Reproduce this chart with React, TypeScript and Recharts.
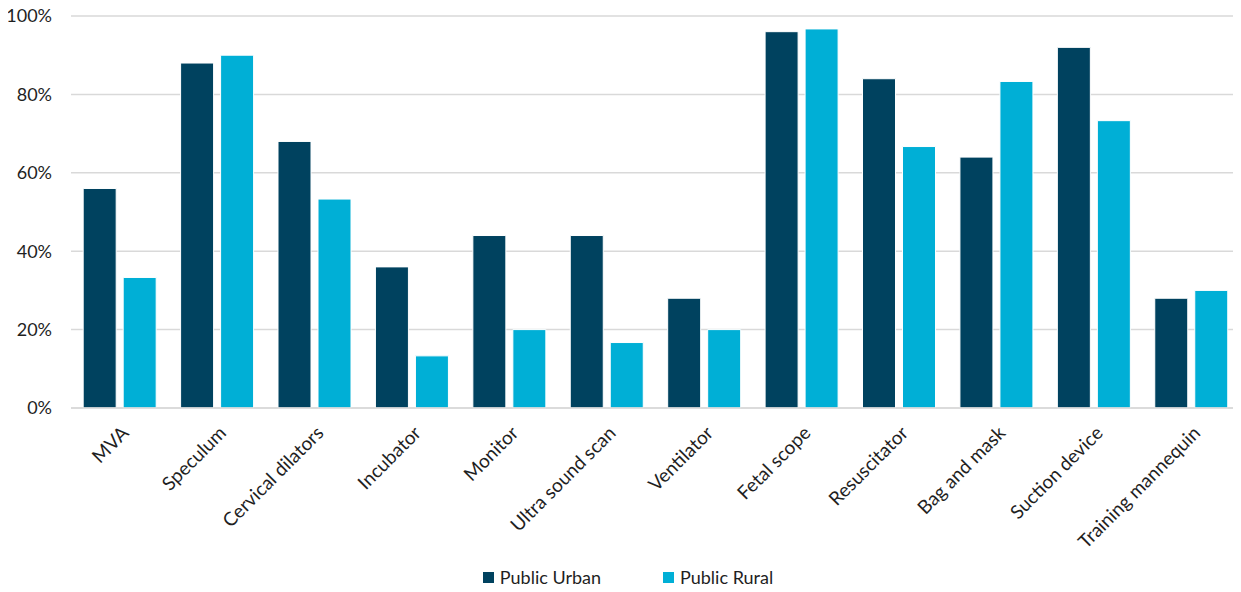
import { BarChart, Bar, XAxis, YAxis, CartesianGrid, Legend } from 'recharts'

const categories = [
  'MVA',
  'Speculum',
  'Cervical dilators',
  'Incubator',
  'Monitor',
  'Ultra sound scan',
  'Ventilator',
  'Fetal scope',
  'Resuscitator',
  'Bag and mask',
  'Suction device',
  'Training mannequin',
]
const publicUrban = [56, 88, 68, 36, 44, 44, 28, 96, 84, 64, 92, 28]
const publicRural = [33.3, 90, 53.3, 13.3, 20, 16.7, 20, 96.7, 66.7, 83.3, 73.3, 30]
const yTicks = [0, 20, 40, 60, 80, 100]

const URBAN = '#00425f'
const RURAL = '#00afd6'
const FONT = 'Lato, Calibri, "Noto Sans", sans-serif'

const data = categories.map((name, i) => ({
  name,
  urban: publicUrban[i],
  rural: publicRural[i],
}))

function CategoryTick(props: any) {
  const { x, y, payload } = props
  return (
    <g transform={`translate(${x + 6},${y + 14})`}>
      <text
        transform="rotate(-45)"
        textAnchor="end"
        dy={6}
        fontSize={19}
        fontFamily={FONT}
        fill="#1f1f1f"
      >
        {payload.value}
      </text>
    </g>
  )
}

function LegendBox() {
  const items = [
    { label: 'Public Urban', color: URBAN },
    { label: 'Public Rural', color: RURAL },
  ]
  return (
    <div
      style={{
        display: 'flex',
        justifyContent: 'center',
        gap: 62,
        fontFamily: FONT,
        fontSize: 18,
        color: '#1f1f1f',
        paddingLeft: 16,
        paddingTop: 8,
      }}
    >
      {items.map((it) => (
        <div key={it.label} style={{ display: 'flex', alignItems: 'center' }}>
          <span style={{ width: 11, height: 11, background: it.color, display: 'inline-block', marginRight: 6 }} />
          {it.label}
        </div>
      ))}
    </div>
  )
}

export default function App() {
  return (
    <div style={{ margin: -8, background: '#fff', width: 1241, height: 592 }}>
      <BarChart
        width={1241}
        height={592}
        data={data}
        margin={{ top: 16, right: 1, left: 0, bottom: 0 }}
        barCategoryGap="12.5%"
        barGap={7}
      >
        <CartesianGrid vertical={false} stroke="#d9d9d9" strokeWidth={1.5} />
        <XAxis
          dataKey="name"
          interval={0}
          height={150}
          tickLine={false}
          axisLine={{ stroke: '#d9d9d9', strokeWidth: 1.5 }}
          tick={<CategoryTick />}
        />
        <YAxis
          width={71}
          domain={[0, 100]}
          ticks={yTicks}
          axisLine={false}
          tickLine={false}
          tickFormatter={(v: number) => `${v}%`}
          tick={{ fontSize: 18, fill: '#1f1f1f', fontFamily: FONT }}
          tickMargin={13}
        />
        <Legend verticalAlign="bottom" height={34} content={<LegendBox />} />
        <Bar dataKey="urban" name="Public Urban" fill={URBAN} stroke="#ffffff" strokeWidth={1} isAnimationActive={false} />
        <Bar dataKey="rural" name="Public Rural" fill={RURAL} stroke="#ffffff" strokeWidth={1} isAnimationActive={false} />
      </BarChart>
    </div>
  )
}
